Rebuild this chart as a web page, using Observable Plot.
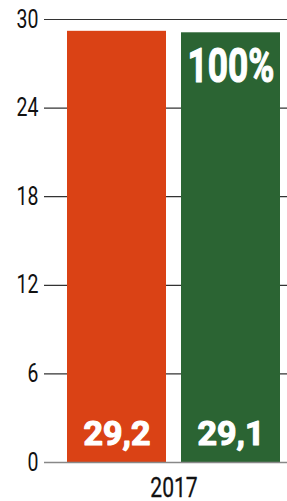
<!DOCTYPE html>
<html>
<head>
<meta charset="utf-8">
<script src="https://cdn.jsdelivr.net/npm/d3@7"></script>
<script src="https://cdn.jsdelivr.net/npm/@observablehq/plot@0.6"></script>
<style>
  html, body { margin: 0; padding: 0; background: #fff; }
  #chart svg { display: block; }
</style>
</head>
<body>
<div id="chart"></div>
<script>
const year = "2017";
const series = ["A", "B"];
const values = [29.2, 29.1];
const shares = [null, 100];
const colors = ["#DA4215", "#2B6433"];
const yTicks = [0, 6, 12, 18, 24, 30];

const data = series.map((s, i) => ({ series: s, value: values[i], share: shares[i], year }));
const fmt = v => v.toFixed(1).replace(".", ",");

const font = "Roboto, 'Noto Sans', sans-serif";

const chart = Plot.plot({
  width: 287,
  height: 501,
  marginTop: 19,
  marginBottom: 39,
  marginLeft: 44,
  marginRight: 0,
  style: { fontFamily: font, background: "#fff", overflow: "visible" },
  x: { type: "band", domain: series, range: [67, 280], paddingInner: 0.1316, paddingOuter: 0, axis: null },
  y: { domain: [0, 30], ticks: yTicks, axis: null },
  color: { domain: series, range: colors },
  marks: [
    Plot.gridY(yTicks.filter(t => t > 0), { stroke: "#333", strokeOpacity: 1, strokeWidth: 1.2 }),
    Plot.axisY({ ticks: yTicks, label: null, tickSize: 0, tickPadding: 6, fontSize: 25, fill: "#111", stroke: "#111", strokeWidth: 0.3, tickFormat: d => String(d), className: "cond" }),
    Plot.barY(data, { x: "series", y: "value", fill: "series" }),
    Plot.ruleY([0], { stroke: "#888", strokeWidth: 1.5 }),
    Plot.text(data, { x: "series", y: 0, text: d => fmt(d.value), fill: "white", stroke: "white", strokeWidth: 1.2, fontSize: 34, fontWeight: "bold", lineAnchor: "bottom", dy: -18, className: "vals" }),
    Plot.text(data.filter(d => d.share != null), { x: "series", y: "value", text: d => d.share + "%", fill: "white", stroke: "white", strokeWidth: 1.2, fontSize: 49, fontWeight: "bold", lineAnchor: "top", dy: 14, className: "share" }),
    Plot.text([year], { frameAnchor: "bottom", text: d => d, dx: 8, dy: 34, fontSize: 27, fill: "#111", stroke: "#111", strokeWidth: 0.3, lineAnchor: "bottom", className: "year" })
  ]
});
document.getElementById("chart").appendChild(chart);

function condense(selector, factor) {
  chart.querySelectorAll(selector + " text").forEach(t => {
    const len = t.getComputedTextLength();
    t.setAttribute("textLength", (len * factor).toFixed(2));
    t.setAttribute("lengthAdjust", "spacingAndGlyphs");
  });
}
condense(".cond", 0.78);
condense(".year", 0.78);
condense(".share", 0.72);
</script>
</body>
</html>
